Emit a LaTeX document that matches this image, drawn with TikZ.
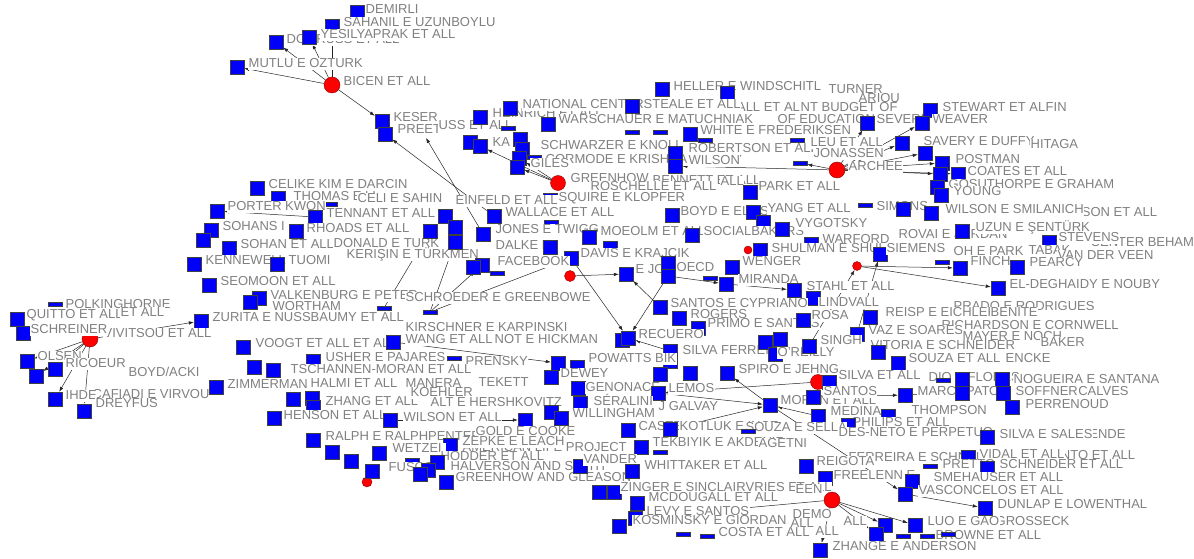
\documentclass[tikz,border=0pt]{standalone}
\usepackage{fontspec}
\setmainfont{Liberation Sans}
\usetikzlibrary{arrows.meta}
\definecolor{labc}{RGB}{128,128,128}
\definecolor{nblue}{RGB}{0,0,250}
\pgfdeclarelayer{bg}\pgfdeclarelayer{edges}\pgfsetlayers{bg,edges,main}
\newcount\txc
\newcommand\Sq[3]{\node[sq] (#1) at (#2,#3) {};}
\newcommand\Br[3]{\node[barn] (#1) at (#2,#3) {};}
\newcommand\Hb[4]{\node[hub,minimum size=#4] (#1) at (#2,#3) {};}
\newcommand\Tx[3]{\global\advance\txc by 1\relax\node[lab] (t\the\txc) at (#1,#2) {#3};}
\tikzset{
 sq/.style={rectangle,draw=black!75,line width=0.4pt,fill=nblue,minimum width=14pt,minimum height=14pt,inner sep=0pt},
 barn/.style={rectangle,draw=black!75,line width=0.4pt,fill=nblue,minimum width=14pt,minimum height=4pt,inner sep=0pt},
 hub/.style={circle,draw=red!55!black,line width=0.4pt,fill=red,inner sep=0pt},
 lab/.style={anchor=west,fill=white,text=labc,inner xsep=0.5pt,inner ysep=0.3pt,font=\fontsize{13}{13}\selectfont,text height=9.6pt,text depth=2.4pt},
 edge/.style={draw=black!85,line width=0.5pt,-{Latex[length=5pt,width=3.5pt]}}
}
\begin{document}
\begin{tikzpicture}[x=1pt,y=-1pt]
\begin{pgfonlayer}{bg}\fill[white] (0,0) rectangle (1194,559);\end{pgfonlayer}
\useasboundingbox (0,0) rectangle (1194,559);
% ---------- top left
\Sq{demirli}{357}{12} \Tx{365}{10}{DEMIRLI}
\Sq{sahanil}{332}{26} \Tx{343}{23}{SAHANIL E UZUNBOYLU}
\Sq{dogu}{276}{42} \Tx{286}{40}{DOGRUSS ET ALL}
\Sq{yesil}{309}{37} \Tx{320}{35}{YESILYAPRAK ET ALL}
\Sq{mutlu}{237}{67} \Tx{248}{64}{MUTLU E OZTURK}
\Hb{bicen}{332}{85}{16} \Tx{343}{82}{BICEN ET ALL}
\Sq{keser}{382}{121} \Tx{393}{118}{KESER}
\Sq{preet}{385}{134} \Tx{397}{130}{PREET}
\Tx{438}{126}{USS ET ALL}
\coordinate (ussc) at (426,138);
% ---------- top centre
\Sq{hein}{480}{117} \Tx{492}{114}{HEINRICH ET ALL}
\Sq{natl}{510}{108} \Tx{522}{105}{NATIONAL CENTER}
\Br{b1}{508}{128}
\Sq{warsch}{548}{124}
\Tx{777}{120}{OF EDUCATION}
\Tx{558}{120}{WARSCHAUER E MATUCHNIAK}
\Sq{k470}{470}{142}
\Sq{ka}{480}{146} \Tx{492}{143}{KA}
\Tx{545}{160}{CORMODE E KRISHNAMURTHY}
\Sq{c1}{520}{139} \Sq{c2}{522}{149} \Sq{c3}{519}{158} \Sq{c4}{517}{167} \Br{c5}{534}{157}
\Tx{540}{146}{SCHWARZER E KNOLL}
\Tx{530}{164}{GILES}
\Tx{570}{179}{GREENHOW}
\Tx{652}{181}{BENNETT ET ALL}
\Hb{hubg}{558}{183}{15}
\Tx{590}{187}{ROSCHELLE ET ALL}
\Tx{720}{182}{ALL}
\Sq{heller}{662}{89} \Tx{673}{87}{HELLER E WINDSCHITL}
\Sq{wind}{727}{93}
\Tx{828}{90}{TURNER}
\Tx{858}{99}{ARIOU}
\Tx{727}{108}{DALL ET ALL}
\Tx{800}{108}{NT BUDGET OF}
\Sq{steale}{632}{106} \Tx{643}{105}{STEALE ET ALL}
\Br{b2}{632}{132} \Br{b3}{660}{132}
\Sq{white}{690}{134} \Tx{700}{131}{WHITE E FREDERIKSEN}
\Br{b4}{705}{140} \Br{b5}{797}{140}
\Tx{688}{149}{ROBERTSON ET ALL}
\Tx{810}{143}{LEU ET ALL}
\Sq{w1}{675}{153} \Sq{w2}{675}{166}
\Tx{688}{161}{WILSON}
\Br{barj}{800}{163}
\Tx{813}{154}{JONASSEN}
\Hb{archee}{837}{170}{16}
\Tx{848}{167}{ARCHEE}
\Sq{sev}{867}{123} \Tx{876}{120}{SEVERN}
\Sq{stewart}{930}{110} \Tx{942}{108}{STEWART ET ALL} \Tx{1045}{108}{FIN}
\Sq{weaver}{922}{123} \Tx{932}{120}{WEAVER}
\Sq{savery}{902}{143} \Tx{923}{142}{SAVERY E DUFFY} \Tx{1030}{145}{HITAGA}
\Sq{s925}{925}{153}
\Sq{postman}{942}{163} \Tx{955}{160}{POSTMAN}
\Sq{s940}{940}{174} \Sq{s958}{958}{174} \Tx{967}{172}{COATES ET ALL}
\Sq{s937}{937}{187} \Tx{948}{185}{GOSUTHORPE E GRAHAM}
\Sq{young}{941}{195} \Tx{953}{192}{YOUNG}
\Sq{park}{750}{192} \Tx{758}{187}{PARK ET ALL}
% ---------- left middle
\Sq{celik}{257}{188} \Tx{268}{185}{CELIKE KIM E DARCIN}
\Sq{s278}{278}{198}
\Tx{293}{197}{THOMAS E LI}
\Tx{357}{199}{CELI E SAHIN}
\Br{b6}{330}{204}
\Sq{porter}{217}{211} \Tx{227}{207}{PORTER KWON}
\Sq{tennant}{315}{217} \Tx{326}{214}{TENNANT ET ALL}
\Sq{rhoads}{296}{231} \Tx{306}{229}{RHOADS ET ALL}
\Sq{s211}{211}{230} \Sq{s203}{203}{240} \Tx{222}{227}{SOHANS I}
\Sq{sohan}{229}{248} \Tx{240}{245}{SOHAN ET ALL}
\Tx{333}{244}{DONALD E TURK}
\Sq{kenn}{194}{264} \Tx{205}{261}{KENNEWELL}
\Sq{tuomi}{277}{264} \Tx{288}{261}{TUOMI}
\Tx{346}{255}{KERIŞIN E TÜRKMEN}
\Sq{seomoon}{209}{285} \Tx{220}{282}{SEOMOON ET ALL}
\Sq{s259}{259}{298} \Sq{s250}{250}{302}
\Tx{270}{296}{VALKENBURG E PETER}
\Tx{272}{307}{WORTHAM}
\Br{b384}{384}{308}
\Tx{405}{298}{SCHROEDER E GREENBOWE}
\Br{b430}{430}{312}
\Sq{zurita}{201}{321} \Tx{212}{318}{ZURITA E NUSSBAUMY ET ALL}
\Tx{405}{328}{KIRSCHNER E KARPINSKI}
\Sq{voogt}{243}{347} \Tx{255}{344}{VOOGT ET ALL ET ALL}
\Sq{wang}{393}{342} \Tx{405}{340}{WANG ET ALL} \Tx{494}{340}{NOT E HICKMAN}
\Sq{usher}{313}{361} \Tx{325}{358}{USHER E PAJARES}
\Br{b454}{454}{358} \Tx{465}{362}{PRENSKY}
\Sq{s254}{254}{367} \Sq{s273}{273}{370}
\Tx{290}{370}{TSCHANNEN-MORAN ET ALL}
% ---------- left cluster
\Tx{65}{305}{POLKINGHORNE}
\Br{b55}{55}{304}
\Sq{quitto}{17}{319} \Tx{26}{315}{QUITTO ET ALL}
\Tx{120}{313}{ET ALL}
\Tx{103}{334}{VIVITSOU ET ALL}
\Hb{hubl}{90}{339}{16}
\Sq{schreiner}{23}{333} \Tx{30}{330}{SCHREINER}
\Sq{olsen}{27}{361} \Tx{37}{357}{OLSEN}
\Sq{ricoeur}{55}{369} \Tx{65}{364}{RICOEUR}
\Sq{s36}{36}{376}
\Tx{128}{373}{BOYD/ACKI}
\Sq{ihde}{55}{399} \Tx{92}{395}{CAFIADI E VIRVOU} \Tx{65}{396}{IHDE}
\Sq{dreyfus}{84}{411} \Tx{95}{404}{DREYFUS}
% ---------- lower left
\Sq{zimm}{216}{387} \Tx{227}{385}{ZIMMERMAN}
\Tx{310}{384}{HALMI ET ALL}
\Sq{s293}{293}{399}
\Sq{s312}{312}{398} \Sq{zhang}{313}{407} \Tx{325}{402}{ZHANG ET ALL}
\Tx{405}{384}{MANERA} \Tx{478}{383}{TEKETT}
\Tx{410}{393}{KOEHLER}
\Tx{430}{403}{ALT E HERSHKOVITZ}
\Br{b368}{368}{412}
\Sq{henson}{274}{418} \Tx{283}{416}{HENSON ET ALL}
\Sq{wilson2}{390}{420} \Tx{403}{418}{WILSON ET ALL}
\Sq{s525}{525}{420}
\Tx{400}{437}{CARPENTER}
\Tx{475}{432}{GOLD E COOKE}
\Sq{ralph}{313}{440} \Tx{325}{437}{RALPH E RALPH}
\Tx{462}{448}{AMERICAN LIFE PROJECT}
\Sq{zepke}{450}{445} \Tx{462}{442}{ZEPKE E LEACH}
\Sq{s332}{332}{452} \Sq{s351}{351}{461} \Sq{wetzel}{379}{453} \Tx{392}{449}{WETZEL}
\Tx{440}{457}{HODDER ET ALL}
\Br{b412}{412}{460}
\Hb{hubs}{367}{482}{10}
\Sq{s372}{372}{471}
\Tx{388}{468}{FUSCO}
\Tx{450}{467}{HALVERSON AND SMITH}
\Sq{s437}{437}{462} \Sq{s428}{428}{470} \Sq{s420}{420}{474} \Sq{s446}{446}{482}
\Tx{455}{478}{GREENHOW AND GLEASON}
\Sq{s580}{580}{466}
% ---------- centre
\Sq{s445}{445}{216} \Sq{s430}{430}{231} \Sq{s455}{455}{227} \Sq{s455b}{455}{242}
\Sq{s550}{550}{200}
\Tx{455}{201}{EINFELD ET ALL}
\Tx{558}{198}{SQUIRE E KLOPFER}
\Sq{wallace}{494}{216} \Tx{505}{213}{WALLACE ET ALL}
\Br{b550}{551}{222}
\Sq{jones}{483}{234} \Tx{495}{230}{JONES E TWIGG}
\Tx{495}{246}{DALKE E}
\Sq{s589}{589}{237}
\Sq{s550b}{550}{247}
\Tx{600}{232}{MOEOLM ET ALL}
\Sq{s610}{610}{248}
\Tx{580}{254}{DAVIS E KRAJCIK}
\Sq{s571}{571}{258}
\Sq{s482}{482}{265} \Sq{s473}{473}{267} \Br{b497}{497}{273}
\Tx{497}{262}{FACEBOOK}
\Hb{hubf}{570}{276}{11}
\Sq{boyd}{672}{215} \Tx{680}{212}{BOYD E ELLISON}
\Sq{s753}{753}{212} \Sq{s763}{763}{222} \Tx{767}{209}{YANG ET ALL}
\Sq{soc}{692}{235} \Tx{703}{232}{SOCIALBAKERS}
\Sq{vyg}{782}{229} \Tx{795}{224}{VYGOTSKY}
\Tx{876}{207}{SIMONS} \Br{b865}{865}{205}
\Sq{warford}{811}{244} \Tx{822}{240}{WARFORD}
\Hb{hubsh}{748}{250}{8}
\Sq{s760}{760}{250}
\Tx{771}{249}{SHULMAN E SHULMAN}
\Sq{s880}{880}{254}
\Sq{john}{626}{274} \Tx{635}{270}{E JOHNSON}
\Sq{oecd1}{668}{263} \Sq{oecd2}{668}{276} \Tx{676}{268}{OECD}
\Sq{wenger}{732}{267} \Tx{742}{262}{WENGER}
\Hb{hub857}{857}{266}{9}
\Br{b715}{710}{278}
\Sq{miranda}{726}{284} \Tx{738}{280}{MIRANDA}
\Sq{stahl}{794}{290} \Tx{806}{287}{STAHL ET ALL}
\Sq{s813}{813}{298}
\Tx{818}{303}{LINDVALL}
\Sq{santosc}{660}{307} \Tx{670}{304}{SANTOS E CYPRIANO}
\Sq{rogers}{679}{318} \Tx{690}{315}{ROGERS}
\Sq{primo}{698}{328} \Tx{707}{324}{PRIMO E SANTOS}
\Sq{s803}{803}{320} \Tx{811}{316}{ROSA}
\Sq{s870}{870}{317}
% ---------- right middle
\Sq{s903}{903}{209} \Tx{1040}{213}{ROBINSON ET ALL} \Sq{wsmil}{931}{213} \Tx{945}{210}{WILSON E SMILANICH}
\Tx{898}{235}{ROVAI E JORDAN}
\Sq{uzun}{962}{231} \Tx{975}{228}{UZUN E ŞENTÜRK}
\Tx{1090}{243}{CENTER BEHAM}
\Sq{stevens}{1049}{242} \Tx{1058}{238}{STEVENS}
\Tx{886}{249}{SIEMENS}
\Tx{953}{252}{OH E PARK}
\Tx{1028}{251}{TABAK}
\Tx{1057}{256}{VAN DER VEEN}
\Br{b942}{942}{262}
\Sq{finch}{960}{268} \Tx{970}{262}{FINCH}
\Sq{pearcy}{1017}{267} \Tx{1029}{263}{PEARCY}
\Sq{eldeg}{998}{288} \Tx{1009}{285}{EL-DEGHAIDY E NOUBY}
\Tx{953}{307}{PRADO E RODRIGUES}
\Tx{885}{313}{REISP E EICHLER} \Tx{990}{313}{BENITE}
\Tx{941}{326}{RICHARDSON E CORNWELL}
\Sq{vaz}{857}{334} \Tx{868}{331}{VAZ E SOARES}
\Tx{962}{337}{MAYER E NOCH}
\Tx{1040}{343}{BAKER}
\Tx{870}{346}{VITORIA E SCHNEIDER}
\Sq{s878}{878}{352}
\Tx{908}{359}{SOUZA ET ALL} \Tx{1005}{359}{ENCKE}
\Sq{s898}{898}{363}
% ---------- centre lower
\Sq{recuero2}{622}{340} \Sq{recuero}{628}{338} \Tx{638}{335}{RECUERO}
\Sq{silva}{670}{351} \Sq{silva2}{670}{361} \Tx{682}{351}{SILVA FERREIRA}
\Sq{s765}{765}{342} \Sq{s780}{780}{339} \Sq{s775}{775}{354} \Tx{777}{353}{O'REILLY}
\Sq{singh}{809}{346} \Tx{820}{341}{SINGH}
\Tx{588}{359}{POWATTS BIK}
\Sq{s558}{558}{363} \Sq{s577}{577}{367}
\Sq{dewey}{551}{377} \Tx{560}{374}{DEWEY}
\Sq{s660}{660}{374} \Sq{s690}{690}{373} \Sq{spiro}{727}{373} \Tx{738}{370}{SPIRO E JEHNG}
\Tx{838}{376}{SILVA ET ALL}
\Hb{hub818}{818}{382}{15}
\Sq{s829}{829}{382}
\Sq{s577b}{578}{388} \Tx{585}{388}{GENONACE}
\Sq{lemos}{658}{393} \Tx{668}{389}{LEMOS}
\Sq{s580b}{580}{403}
\Tx{593}{402}{SÉRALINI}
\Sq{moran}{770}{405} \Tx{780}{401}{MORAN ET ALL}
\Sq{santos}{813}{397} \Tx{823}{392}{SANTOS}
\Sq{s818}{818}{416} \Tx{830}{412}{MEDINA}
\Sq{s888}{888}{416}
\Tx{658}{407}{J GALVAY}
\Sq{s551}{551}{412} \Sq{s561}{561}{418}
\Tx{572}{414}{WILLINGHAM}
\Tx{852}{423}{PHILIPS ET ALL}
\Sq{s848}{848}{425}
\Tx{911}{411}{THOMPSON}
\Sq{caste}{628}{430} \Tx{638}{427}{CASTELLS}
\Sq{kotluk}{670}{429} \Tx{679}{427}{KOTLUK E INCE}
\Tx{745}{428}{SOUZA E SELLA} \Br{b748}{748}{431}
\Sq{tekb}{641}{447} \Tx{652}{443}{TEKBIYIK E AKDENIZ} \Tx{758}{444}{AGETNI}
\Br{b660}{660}{452}
\Tx{838}{433}{DES-NETO E PERPETUO}
\Sq{silvas}{987}{437} \Tx{1062}{435}{RESENDE} \Tx{999}{435}{SILVA E SALES}
\Tx{848}{458}{FERREIRA E SCHNEIDER}
\Sq{vidal}{968}{457} \Tx{1048}{456}{PINTO ET ALL} \Tx{979}{455}{VIDAL ET ALL}
\Br{b930}{930}{466} \Tx{942}{465}{PRETTO}
\Sq{schn}{987}{468} \Tx{999}{465}{SCHNEIDER ET ALL}
\Tx{833}{476}{FREELENN E}
\Tx{933}{478}{SMEHAUSER ET ALL}
\Sq{s912}{912}{481} \Sq{vascon}{905}{494} \Tx{918}{491}{VASCONCELOS ET ALL}
\Sq{dunlap}{985}{508} \Tx{997}{505}{DUNLAP E LOWENTHAL}
\Tx{995}{522}{GROSSECK} \Sq{luo}{915}{525} \Tx{927}{522}{LUO E GAO}
\Tx{935}{536}{BROWNE ET ALL}
\Br{b903}{903}{536} \Br{b927}{927}{536} \Br{b948}{948}{534}
\Tx{583}{460}{VANDER}
\Sq{whit}{632}{471} \Tx{644}{466}{WHITTAKER ET ALL}
\Sq{reig}{806}{466} \Tx{816}{462}{REIGOTA}
\Sq{s825}{825}{478}
\Sq{s599}{599}{492} \Sq{s614}{614}{492} \Tx{620}{488}{ZINGER E SINCLAIR}
\Tx{745}{488}{VRIES ET ALL} \Tx{795}{490}{EEN}
\Sq{mcd}{637}{503} \Tx{648}{498}{MCDOUGALL ET ALL}
\Hb{hub832}{832}{500}{16}
\Sq{levy}{635}{518} \Tx{646}{512}{LEVY E SANTOS}
\Sq{kosm}{619}{526} \Tx{632}{521}{KOSMINSKY E GIORDAN}
\Tx{792}{515}{DEMO} \Tx{790}{524}{ALL} \Tx{843}{522}{ALL} \Tx{815}{532}{ALL}
\Br{b683}{683}{534} \Br{b707}{707}{536} \Tx{718}{533}{COSTA ET ALL}
\Sq{s885}{885}{525} \Sq{s876}{876}{534}
\Sq{zhange}{820}{550} \Tx{832}{547}{ZHANGE E ANDERSON}
% ---------- lower right top
\Tx{928}{378}{DIO E FLORES}
\Br{b943}{943}{380} \Sq{s962}{962}{379} \Sq{s1002}{1002}{379}
\Tx{1013}{380}{NOGUEIRA E SANTANA}
\Sq{marc}{905}{395} \Tx{917}{392}{MARCOPATO}
\Sq{s962b}{962}{393} \Tx{1048}{392}{GONCALVES}
\Sq{s1003}{1003}{393} \Tx{1015}{392}{SOFFNER}
\Sq{perr}{1012}{407} \Tx{1025}{405}{PERRENOUD}
% ---------- connectors
\begin{pgfonlayer}{edges}
\draw[edge] (bicen) -- (mutlu);
\draw[edge] (bicen) -- (dogu);
\draw[edge] (bicen) -- (yesil);
\draw[edge] (bicen) -- (sahanil);
\draw[edge] (bicen) -- (keser);
\draw[edge] (wallace) -- (preet);
\draw[edge] (jones) -- (ussc);
\draw[edge] (hubg) -- (ka);
\draw[edge] (hubg) -- (c4);
\draw[edge] (hubg) -- (c3);
\draw[edge] (archee) -- (barj);
\draw[edge] (archee) -- (w2);
\draw[edge] (archee) -- (sev);
\draw[edge] (archee) -- (weaver);
\draw[edge] (archee) -- (savery);
\draw[edge] (archee) -- (s925);
\draw[edge] (archee) -- (postman);
\draw[edge] (archee) -- (s940);
\draw[edge] (archee) -- (s958);
\draw[edge] (hub857) -- (finch);
\draw[edge] (hub857) -- (eldeg);
\draw[edge] (vaz) -- (s880);
\draw[edge] (singh) -- (hub857);
\draw[edge] (hubf) -- (john);
\draw[edge] (s571) -- (recuero);
\draw[edge] (oecd2) -- (recuero);
\draw[edge] (santosc) -- (john);
\draw[edge] (silva) -- (recuero);
\draw[edge] (oecd2) -- (miranda);
\draw[edge] (miranda) -- (stahl);
\draw[edge] (hub818) -- (lemos);
\draw[edge] (moran) -- (spiro);
\draw[edge] (lemos) -- (moran);
\draw[edge] (kotluk) -- (moran);
\draw[edge] (s818) -- (moran);
\draw[edge] (santos) -- (marc);
\draw[edge] (marc) -- (s962b);
\draw[edge] (moran) -- (vascon);
\draw[edge] (vascon) -- (dunlap);
\draw[edge] (hub832) -- (s885);
\draw[edge] (hub832) -- (s876);
\draw[edge] (hub832) -- (luo);
\draw[edge] (hub832) -- (levy);
\draw[edge] (hub832) -- (zhange);
\draw[edge] (wilson2) -- (s525);
\draw[edge] (tennant) -- (porter);
\draw[edge] (hubl) -- (zurita);
\draw[edge] (hubl) -- (olsen);
\draw[edge] (hubl) -- (ricoeur);
\draw[edge] (hubl) -- (s36);
\draw[edge] (hubl) -- (ihde);
\draw[edge] (hubl) -- (dreyfus);
\draw[edge] (b430) -- (s455b);
\draw[edge] (b384) -- (s430);
\draw[edge] (b430) -- (s571);
\draw[edge] (b430) -- (s482);
\draw[edge] (wang) -- (s558);
\end{pgfonlayer}
\end{tikzpicture}
\end{document}
